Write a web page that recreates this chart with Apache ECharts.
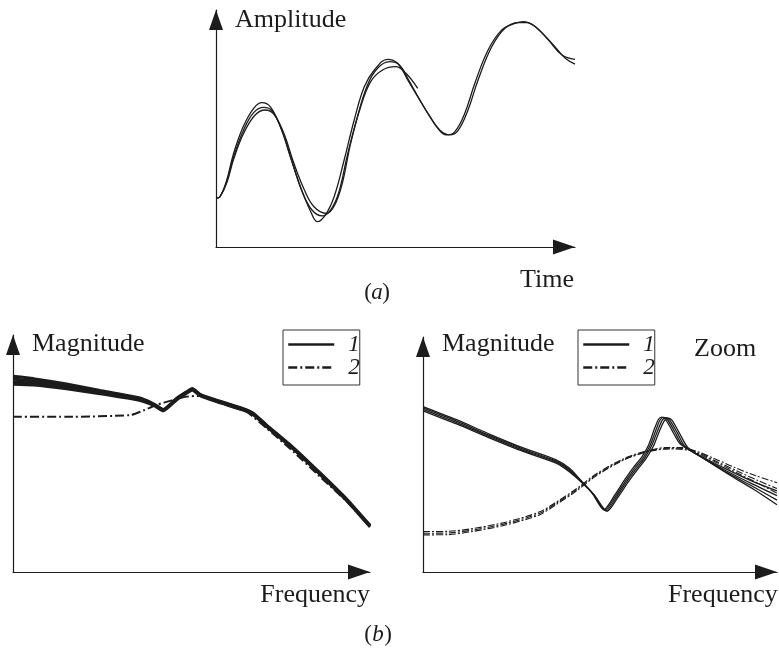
<!DOCTYPE html>
<html><head><meta charset="utf-8">
<script src="https://cdn.jsdelivr.net/npm/echarts@6/dist/echarts.min.js"></script>
<style>html,body{margin:0;padding:0;background:#fff}#c{width:779px;height:648px}</style>
</head><body><div id="c"></div>
<script>
// Panel (a): amplitude vs time (3 realisations)
const timeCurveA = [[0,20.5],[1.1,21.2],[3.0,28.3],[4.9,39.5],[7.6,50.8],[10.5,58.5],[12.8,60.9],[15.1,59.2],[17.9,50.8],[20.7,38.1],[23.5,25.4],[26.3,15.2],[28.2,10.7],[30.5,13.6],[32.9,21.2],[35.7,36.7],[38.5,53.6],[41.3,67.6],[44.1,74.7],[47.8,79.2],[50.6,77.5],[53.4,70.5],[56.2,63.4],[59.0,56.4],[61.8,50.1],[64.1,47.3],[66.5,48.6],[69.3,56.4],[72.1,69.1],[75.8,83.1],[79.6,91.6],[83.3,94.4],[85.6,95.1],[88.9,93.0],[92.6,87.3],[96.4,81.0],[100,79.2]];
const timeCurveB = [[0,20.5],[1.1,21.2],[3.0,27.6],[4.9,38.1],[7.7,49.4],[10.5,56.7],[13.3,58.9],[15.6,57.5],[18.4,49.1],[21.2,36.0],[24.0,23.4],[26.8,15.5],[29.6,13.1],[32.0,15.8],[34.2,23.0],[36.6,38.8],[39.4,55.0],[42.2,68.4],[45.0,75.4],[48.3,78.2],[51.1,76.8],[53.9,69.8],[56.7,62.3],[59.5,55.3],[62.3,49.4],[65.1,47.3],[67.4,49.1],[70.2,57.8],[73.0,70.5],[76.8,84.5],[80.5,92.3],[84.2,94.7],[86.6,94.7],[89.8,91.8],[93.6,85.9],[97.3,79.6],[100,77.2]];
const timeCurveC = [[0,20.5],[1.1,21.2],[3.0,27.1],[4.9,37.0],[7.7,48.0],[10.9,55.7],[13.7,57.8],[16.1,56.1],[18.9,48.0],[21.7,35.3],[24.5,24.5],[27.3,17.0],[30.8,14.2],[33.0,17.5],[35.2,27.0],[37.5,43.7],[40.3,59.2],[43.1,69.8],[46.4,74.7],[50.1,76.1],[52.9,73.3],[56.2,66.9]];

// Panel (b) left: magnitude vs frequency
const magL1a = [[0,82.6],[5.7,81.6],[15.0,79.3],[24.4,76.6],[35.6,73.4],[39.3,71.0],[42.1,68.6],[45.8,73.2],[48.6,76.0],[50.2,77.4],[52.4,75.0],[57.0,72.5],[64.5,68.9],[67.3,67.0],[71.1,61.9],[78.5,52.5],[86.0,41.8],[93.5,30.7],[100,19.7]];
const magL1b = [[0,81.4],[5.7,80.6],[15.0,78.6],[24.4,76.2],[35.6,73.1],[39.3,70.8],[42.1,68.4],[45.8,73.0],[48.6,75.8],[50.2,77.2],[52.4,74.8],[57.0,72.3],[64.5,68.7],[67.3,66.8],[71.1,61.7],[78.5,52.3],[86.0,41.6],[93.5,30.5],[100,19.5]];
const magL1c = [[0,80.3],[5.7,79.7],[15.0,78.1],[24.4,75.7],[35.6,72.9],[39.3,70.6],[42.1,68.2],[45.8,72.8],[48.6,75.6],[50.2,77.0],[52.4,74.6],[57.0,72.1],[64.5,68.5],[67.3,66.6],[71.1,61.5],[78.5,52.1],[86.0,41.4],[93.5,30.3],[100,19.3]];
const magL1d = [[0,79.2],[5.7,78.9],[15.0,77.3],[24.4,75.2],[35.6,72.4],[39.3,70.4],[42.1,68.0],[45.8,72.6],[48.6,75.4],[50.2,76.8],[52.4,74.4],[57.0,71.9],[64.5,68.3],[67.3,66.4],[71.1,61.3],[78.5,51.9],[86.0,41.2],[93.5,30.1],[100,19.1]];
const magL2 = [[0,65.5],[15.0,65.5],[32.8,66.2],[36.5,68.1],[40.2,70.5],[44.9,72.6],[48.6,74.0],[52.4,74.3],[57.0,72.6],[64.5,68.6],[71.1,60.6],[78.5,50.8],[86.0,40.2],[93.5,29.7],[100,19.0]];

// Panel (b) right: zoomed magnitude
const magR1a = [[0,70.4],[9.5,64.8],[18.9,58.6],[28.3,52.8],[37.6,47.7],[41.4,44.1],[44.3,39.5],[47.8,33.6],[51.1,26.5],[54.2,32.8],[57.0,39.3],[59.6,44.8],[61.7,48.7],[63.8,54.3],[65.3,60.6],[66.5,64.9],[67.4,65.9],[68.4,65.2],[70.3,60.4],[72.6,54.6],[77.3,50.3],[85.0,44.3],[92.8,38.8],[100,34.5]];
const magR1b = [[0,69.8],[9.5,64.2],[18.9,58.0],[28.3,52.3],[37.6,47.2],[41.4,43.6],[44.5,39.0],[48.0,33.3],[51.4,26.3],[54.5,32.5],[57.4,39.1],[60.0,44.5],[62.1,48.4],[64.2,54.0],[65.8,60.4],[67.0,64.8],[68.0,65.8],[69.0,65.0],[71.0,60.0],[73.3,54.0],[78.0,49.5],[85.5,43.2],[93.0,37.5],[100,32.5]];
const magR1c = [[0,69.2],[9.5,63.6],[18.9,57.5],[28.3,51.8],[37.6,46.8],[41.4,43.1],[44.7,38.5],[48.2,33.0],[51.7,26.0],[54.8,32.2],[57.8,39.0],[60.4,44.2],[62.5,48.2],[64.6,53.8],[66.3,60.2],[67.6,64.6],[68.6,65.7],[69.6,64.8],[71.7,59.6],[74.0,53.5],[78.7,48.8],[86.0,42.2],[93.3,36.3],[100,30.6]];
const magR1d = [[0,68.6],[9.5,63.0],[18.9,57.0],[28.3,51.3],[37.6,46.3],[41.4,42.6],[44.9,38.0],[48.4,32.7],[52.0,25.8],[55.1,31.9],[58.2,38.8],[60.8,44.0],[62.9,48.0],[65.1,53.6],[66.8,60.0],[68.2,64.4],[69.3,65.5],[70.3,64.6],[72.4,59.2],[74.8,53.0],[79.4,48.2],[86.6,41.3],[93.6,35.0],[100,28.6]];
const magR2a = [[0,17.2],[7,17.3],[14.2,18.5],[23.6,21.3],[33.0,25.6],[37.6,29.7],[43.3,35.4],[48.9,41.7],[56.4,48.0],[63.0,51.5],[69.0,53.0],[73.0,53.0],[77.0,51.5],[82.0,48.5],[88.0,44.5],[94.0,41.0],[100,38.0]];
const magR2b = [[0,16.5],[7,16.6],[14.2,17.9],[23.6,20.7],[33.0,25.0],[37.6,29.2],[43.3,34.9],[48.9,41.3],[56.4,47.7],[63.0,51.2],[69.5,52.7],[74.0,52.5],[78.0,50.5],[83.0,47.0],[89.0,42.8],[94.5,39.0],[100,35.5]];
const magR2c = [[0,15.8],[7,15.9],[14.2,17.3],[23.6,20.1],[33.0,24.4],[37.6,28.7],[43.3,34.4],[48.9,40.9],[56.4,47.4],[63.0,51.0],[70.0,52.4],[75.0,51.8],[79.0,49.5],[84.0,45.8],[90.0,41.2],[95.0,37.5],[100,33.5]];

const legendNames = ['1', '2'];

const INK = '#1c1c1c';
const SERIF = '"Liberation Serif", "DejaVu Serif", serif';
const DASHDOT = [9, 3, 2, 3];

function xAx(g) {
  return { gridIndex: g, type: 'value', min: 0, max: 100,
    axisLine: { show: true, onZero: false, symbol: ['none', 'triangle'], symbolSize: [15, 22], symbolOffset: [0, -11],
      lineStyle: { color: INK, width: 1.2 } },
    axisTick: { show: false }, axisLabel: { show: false }, splitLine: { show: false } };
}
function yAx(g) {
  return { gridIndex: g, type: 'value', min: 0, max: 100,
    axisLine: { show: true, onZero: false, symbol: ['none', 'triangle'], symbolSize: [14, 20], symbolOffset: [0, -10],
      lineStyle: { color: INK, width: 1.2 } },
    axisTick: { show: false }, axisLabel: { show: false }, splitLine: { show: false } };
}
function line(g, data, name, width, type, smooth) {
  return { type: 'line', name: name, xAxisIndex: g, yAxisIndex: g, data: data,
    symbol: 'none', showSymbol: false, smooth: smooth, silent: true,
    itemStyle: { color: INK },
    lineStyle: { color: INK, width: width, type: type } };
}
function txt(text, x, y, size, align, italic) {
  return { type: 'text', silent: true,
    style: { text: text, x: x, y: y, fill: INK, align: align, verticalAlign: 'middle',
      font: (italic ? 'italic ' : '') + size + 'px ' + SERIF } };
}
function legendAt(left) {
  return { left: left, top: 330, orient: 'vertical', data: legendNames, selectedMode: false,
    itemWidth: 46, itemHeight: 12, itemGap: 0, padding: [3, 0, 6, 4],
    borderColor: '#333', borderWidth: 1, borderRadius: 0,
    itemStyle: { opacity: 0 },
    lineStyle: { width: 2.5, opacity: 1 },
    textStyle: { fontFamily: SERIF, fontStyle: 'italic', fontSize: 23, lineHeight: 20, color: INK, padding: [0, 0, 0, 9] } };
}

const chart = echarts.init(document.getElementById('c'), null, { renderer: 'canvas' });
chart.setOption({
  animation: false,
  backgroundColor: '#fff',
  grid: [
    { left: 216, top: 10, width: 359, height: 237 },
    { left: 13, top: 335, width: 357, height: 237 },
    { left: 423, top: 337, width: 354, height: 235 }
  ],
  xAxis: [xAx(0), xAx(1), xAx(2)],
  yAxis: [yAx(0), yAx(1), yAx(2)],
  legend: [legendAt(283), legendAt(578)],
  series: [
    line(0, timeCurveA, 'a1', 1.3, 'solid', 0.4),
    line(0, timeCurveB, 'a2', 1.3, 'solid', 0.4),
    line(0, timeCurveC, 'a3', 1.3, 'solid', 0.4),
    line(1, magL1a, '1', 3, 'solid', 0.15),
    line(1, magL1b, '1', 3, 'solid', 0.15),
    line(1, magL1c, '1', 3, 'solid', 0.15),
    line(1, magL1d, '1', 3, 'solid', 0.15),
    line(1, magL2, '2', 2, DASHDOT, 0.2),
    line(2, magR2a, '2', 1.1, [7, 2, 2, 2], 0.3),
    line(2, magR2b, '2', 1.1, [7, 2, 2, 2], 0.3),
    line(2, magR2c, '2', 1.1, [7, 2, 2, 2], 0.3),
    line(2, magR1a, '1', 1.3, 'solid', 0.25),
    line(2, magR1b, '1', 1.3, 'solid', 0.25),
    line(2, magR1c, '1', 1.3, 'solid', 0.25),
    line(2, magR1d, '1', 1.3, 'solid', 0.25)
  ],
  graphic: [
    txt('Amplitude', 235, 20, 26, 'left', false),
    txt('Time', 574, 280, 26, 'right', false),
    txt('(', 368, 293, 23, 'center', false),
    txt('a', 377, 293, 23, 'center', true),
    txt(')', 386, 293, 23, 'center', false),
    txt('Magnitude', 32, 344, 26, 'left', false),
    txt('Frequency', 370, 595, 26, 'right', false),
    txt('Magnitude', 442, 344, 26, 'left', false),
    txt('Zoom', 694, 349, 26, 'left', false),
    txt('Frequency', 668, 595, 26, 'left', false),
    txt('(', 368, 635, 23, 'center', false),
    txt('b', 378, 635, 23, 'center', true),
    txt(')', 388, 635, 23, 'center', false)
  ]
});
</script></body></html>
